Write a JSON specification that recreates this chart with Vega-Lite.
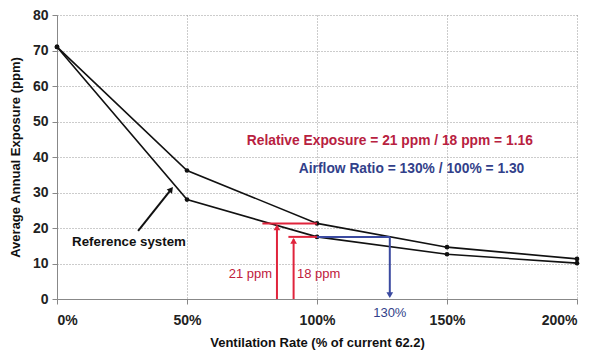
{
  "$schema": "https://vega.github.io/schema/vega-lite/v6.json",
  "width": 520,
  "height": 284,
  "autosize": {"type": "none"},
  "padding": {"left": 57, "top": 15, "right": 20, "bottom": 57},
  "background": "white",
  "config": {
    "font": "Liberation Sans",
    "view": {"stroke": null},
    "axis": {
      "labelFont": "Liberation Sans",
      "labelFontWeight": "bold",
      "labelFontSize": 14,
      "labelColor": "#222222",
      "labelOverlap": false,
      "titleFont": "Liberation Sans",
      "titleFontWeight": "bold",
      "titleFontSize": 13,
      "titleColor": "#111111",
      "domainColor": "#888888",
      "tickColor": "#888888",
      "gridColor": "#999999",
      "gridDash": [1, 2],
      "gridWidth": 1
    }
  },
  "encoding": {
    "x": {
      "field": "x", "type": "quantitative",
      "scale": {"domain": [0, 200], "nice": false},
      "axis": {
        "values": [0, 50, 100, 150, 200],
        "labelExpr": "datum.value + '%'",
        "title": "Ventilation Rate (% of current 62.2)",
        "tickSize": 5, "labelPadding": 9, "titlePadding": 9,
        "grid": true
      }
    },
    "y": {
      "field": "y", "type": "quantitative",
      "scale": {"domain": [0, 80], "nice": false},
      "axis": {
        "values": [0, 10, 20, 30, 40, 50, 60, 70, 80],
        "title": "Average Annual Exposure (ppm)",
        "tickSize": 5, "labelPadding": 4, "titlePadding": 10,
        "grid": true
      }
    }
  },
  "layer": [
    {
      "data": {"values": [
        {"x": 0, "y": 71.0, "s": "upper"},
        {"x": 50, "y": 36.2, "s": "upper"},
        {"x": 100, "y": 21.3, "s": "upper"},
        {"x": 150, "y": 14.6, "s": "upper"},
        {"x": 200, "y": 11.3, "s": "upper"},
        {"x": 0, "y": 71.0, "s": "lower"},
        {"x": 50, "y": 28.0, "s": "lower"},
        {"x": 100, "y": 17.5, "s": "lower"},
        {"x": 150, "y": 12.6, "s": "lower"},
        {"x": 200, "y": 10.1, "s": "lower"}
      ]},
      "layer": [
        {
          "mark": {"type": "line", "color": "#111111", "strokeWidth": 1.6},
          "encoding": {"detail": {"field": "s"}}
        },
        {
          "mark": {"type": "point", "filled": true, "color": "#111111", "size": 22, "opacity": 1},
          "encoding": {}
        }
      ]
    },
    {
      "data": {"values": [
        {"x": 79, "x2": 100, "y": 21.3, "y2": 21.3, "c": "red"},
        {"x": 84.6, "x2": 84.6, "y": 0, "y2": 20.6, "c": "red"},
        {"x": 89, "x2": 100, "y": 17.5, "y2": 17.5, "c": "red"},
        {"x": 91, "x2": 91, "y": 0, "y2": 16.8, "c": "red"},
        {"x": 100, "x2": 128, "y": 17.5, "y2": 17.5, "c": "blue"},
        {"x": 128, "x2": 128, "y": 17.5, "y2": 0.8, "c": "blue"},
        {"x": 31.2, "x2": 43.6, "y": 19.2, "y2": 30.6, "c": "black"}
      ]},
      "mark": {"type": "rule", "strokeWidth": 2},
      "encoding": {
        "x2": {"field": "x2"},
        "y2": {"field": "y2"},
        "color": {
          "field": "c", "type": "nominal",
          "scale": {"domain": ["red", "blue", "black"], "range": ["#e0243c", "#3b4aa0", "#111111"]},
          "legend": null
        }
      }
    },
    {
      "data": {"values": [
        {"x": 84.6, "y": 20.2, "a": 0, "c": "red"},
        {"x": 91, "y": 16.4, "a": 0, "c": "red"},
        {"x": 128, "y": 1.1, "a": 180, "c": "blue"},
        {"x": 43.9, "y": 30.9, "a": 38, "c": "black"}
      ]},
      "mark": {"type": "point", "shape": "triangle-up", "filled": true, "size": 45, "opacity": 1},
      "encoding": {
        "angle": {"field": "a", "type": "quantitative", "scale": null},
        "color": {
          "field": "c", "type": "nominal",
          "scale": {"domain": ["red", "blue", "black"], "range": ["#e0243c", "#3b4aa0", "#111111"]},
          "legend": null
        }
      }
    },
    {
      "data": {"values": [
        {"t": "Relative Exposure = 21 ppm / 18 ppm = 1.16", "x": 73, "y": 44.4, "c": "#b8213f"},
        {"t": "Airflow Ratio = 130% / 100% = 1.30", "x": 93, "y": 36.7, "c": "#323f8a"}
      ]},
      "mark": {"type": "text", "fontSize": 13.8, "fontWeight": "bold", "font": "Liberation Sans", "baseline": "middle", "align": "left"},
      "encoding": {
        "text": {"field": "t"},
        "color": {"field": "c", "type": "nominal", "scale": null}
      }
    },
    {
      "data": {"values": [
        {"t": "Reference system", "x": 5.8, "y": 16.1, "c": "#111111"}
      ]},
      "mark": {"type": "text", "fontSize": 13.3, "fontWeight": "bold", "font": "Liberation Sans", "baseline": "middle", "align": "left"},
      "encoding": {
        "text": {"field": "t"},
        "color": {"field": "c", "type": "nominal", "scale": null}
      }
    },
    {
      "data": {"values": [
        {"t": "18 ppm", "x": 92.3, "y": 7.1, "c": "#c0203c"}
      ]},
      "mark": {"type": "text", "fontSize": 13, "font": "Liberation Sans", "baseline": "middle", "align": "left"},
      "encoding": {
        "text": {"field": "t"},
        "color": {"field": "c", "type": "nominal", "scale": null}
      }
    },
    {
      "data": {"values": [
        {"t": "21 ppm", "x": 82.7, "y": 7.1, "c": "#c0203c"}
      ]},
      "mark": {"type": "text", "fontSize": 13, "font": "Liberation Sans", "baseline": "middle", "align": "right"},
      "encoding": {
        "text": {"field": "t"},
        "color": {"field": "c", "type": "nominal", "scale": null}
      }
    },
    {
      "data": {"values": [
        {"t": "130%", "x": 128, "y": 0, "c": "#323f8a"}
      ]},
      "mark": {"type": "text", "fontSize": 13, "font": "Liberation Sans", "baseline": "middle", "align": "center", "dy": 14},
      "encoding": {
        "text": {"field": "t"},
        "color": {"field": "c", "type": "nominal", "scale": null}
      }
    }
  ]
}
